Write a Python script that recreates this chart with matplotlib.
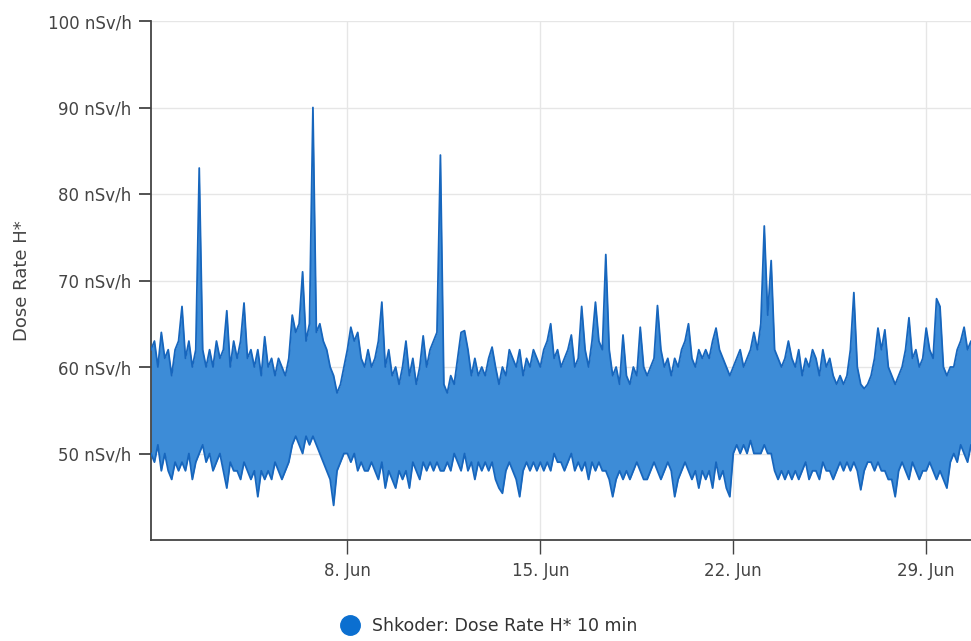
from datetime import datetime, timedelta
import matplotlib
matplotlib.use("Agg")
import matplotlib.pyplot as plt
from matplotlib.lines import Line2D

# 3-hourly max / min of the 10 min dose rate, starting 31 May 21:00
inicio = datetime(2023, 5, 31, 21)
paso_horas = 3

dosis_max = [62,
    63, 60, 64, 61, 62, 59, 62, 63,
    67, 61, 63, 60, 62, 83, 62, 60,
    62, 60, 63, 61, 62, 66.5, 60, 63,
    61, 63, 67.4, 61, 62, 60, 62, 59,
    63.5, 60, 61, 59, 61, 60, 59, 61,
    66, 64, 65, 71, 63, 65, 90, 64,
    65, 63, 62, 60, 59, 57, 58, 60,
    62, 64.6, 63, 64, 61, 60, 62, 60,
    61, 63, 67.5, 60, 62, 59, 60, 58,
    60, 63, 59, 61, 58, 60, 63.6, 60,
    62, 63, 64, 84.5, 58, 57, 59, 58,
    61, 64, 64.2, 62, 59, 61, 59, 60,
    59, 61, 62.3, 60, 58, 60, 59, 62,
    61, 60, 62, 59, 61, 60, 62, 61,
    60, 62, 63, 65, 61, 62, 60, 61,
    62, 63.7, 60, 61, 67, 62, 60, 63,
    67.5, 63, 62, 73, 62, 59, 60, 58,
    63.7, 59, 58, 60, 59, 64.6, 60, 59,
    60, 61, 67.1, 62, 60, 61, 59, 61,
    60, 62, 63, 65, 61, 60, 62, 61,
    62, 61, 63, 64.5, 62, 61, 60, 59,
    60, 61, 62, 60, 61, 62, 64, 62,
    65, 76.3, 66, 72.3, 62, 61, 60, 61,
    63, 61, 60, 62, 59, 61, 60, 62,
    61, 59, 62, 60, 61, 59, 58, 59,
    58, 59, 62, 68.6, 60, 58, 57.5, 58,
    59, 61, 64.5, 62, 64.3, 60, 59, 58,
    59, 60, 62, 65.7, 61, 62, 60, 61,
    64.5, 62, 61, 67.9, 67, 60, 59, 60,
    60, 62, 63, 64.6, 62, 63, 61, 62]

dosis_min = [50,
    49, 51, 48, 50, 48, 47, 49, 48,
    49, 48, 50, 47, 49, 50, 51, 49,
    50, 48, 49, 50, 48, 46, 49, 48,
    48, 47, 49, 48, 47, 48, 45, 48,
    47, 48, 47, 49, 48, 47, 48, 49,
    51, 52, 51, 50, 52, 51, 52, 51,
    50, 49, 48, 47, 44, 48, 49, 50,
    50, 49, 50, 48, 49, 48, 48, 49,
    48, 47, 49, 46, 48, 47, 46, 48,
    47, 48, 46, 49, 48, 47, 49, 48,
    49, 48, 49, 48, 48, 49, 48, 50,
    49, 48, 50, 48, 49, 47, 49, 48,
    49, 48, 49, 47, 46, 45.4, 48, 49,
    48, 47, 45, 48, 49, 48, 49, 48,
    49, 48, 49, 48, 50, 49, 49, 48,
    49, 50, 48, 49, 48, 49, 47, 49,
    48, 49, 48, 48, 47, 45, 47, 48,
    47, 48, 47, 48, 49, 48, 47, 47,
    48, 49, 48, 47, 48, 49, 48, 45,
    47, 48, 49, 48, 47, 48, 46, 48,
    47, 48, 46, 49, 47, 48, 46, 45,
    50, 51, 50, 51, 50, 51.5, 50, 50,
    50, 51, 50, 50, 48, 47, 48, 47,
    48, 47, 48, 47, 48, 49, 47, 48,
    48, 47, 49, 48, 48, 47, 48, 49,
    48, 49, 48, 49, 48, 45.8, 48, 49,
    49, 48, 49, 48, 48, 47, 47, 45,
    48, 49, 48, 47, 49, 48, 47, 48,
    48, 49, 48, 47, 48, 47, 46, 49,
    50, 49, 51, 50, 49, 51, 50, 50]

ticks_y = [50, 60, 70, 80, 90, 100]
etiquetas_y = ["50 nSv/h", "60 nSv/h", "70 nSv/h", "80 nSv/h", "90 nSv/h", "100 nSv/h"]
ticks_x = [datetime(2023, 6, 8), datetime(2023, 6, 15), datetime(2023, 6, 22), datetime(2023, 6, 29)]
etiquetas_x = ["8. Jun", "15. Jun", "22. Jun", "29. Jun"]
nombre_serie = "Shkoder: Dose Rate H* 10 min"

fechas = [inicio + timedelta(hours=paso_horas * i) for i in range(len(dosis_max))]

azul_borde = "#1766bd"
azul_relleno = "#3d8cd7"

fig = plt.figure(figsize=(9.71, 6.41), dpi=100)
ax = fig.add_axes([151 / 971, 1 - 540 / 641, 1 - 151 / 971, (540 - 21) / 641])

ax.fill_between(fechas, dosis_min, dosis_max, color=azul_relleno, lw=0, zorder=2)
ax.plot(fechas, dosis_max, color=azul_borde, lw=1.3, zorder=4)
ax.plot(fechas, dosis_min, color=azul_borde, lw=1.3, zorder=4)

ax.set_ylim(40, 100)
ax.set_xlim(inicio, datetime(2023, 6, 30, 15))
ax.set_yticks(ticks_y)
ax.set_yticklabels(etiquetas_y)
ax.set_xticks(ticks_x)
ax.set_xticklabels(etiquetas_x)

ax.grid(True, color="#e6e6e6", lw=1)
ax.set_axisbelow(True)
for lado in ["top", "right"]:
    ax.spines[lado].set_visible(False)
ax.spines["left"].set_color("#444444")
ax.spines["bottom"].set_color("#444444")
ax.spines["left"].set_linewidth(1.3)
ax.spines["bottom"].set_linewidth(1.3)
ax.tick_params(axis="y", length=9, width=1.3, color="#444444", labelsize=12, labelcolor="#444444", pad=5)
ax.tick_params(axis="x", length=10, width=1, color="#444444", labelsize=12, labelcolor="#444444", pad=6)

ax.set_ylabel("Dose Rate H*", fontsize=13, color="#444444", labelpad=12)

marca = Line2D([], [], color="#0b6fd0", marker="o", markersize=14, lw=0)
fig.legend([marca], [nombre_serie], loc="center", bbox_to_anchor=(485 / 971, 1 - 626 / 641),
           frameon=False, fontsize=12.5, labelcolor="#333333", handletextpad=0.3)

plt.savefig("out.png", dpi=100)
